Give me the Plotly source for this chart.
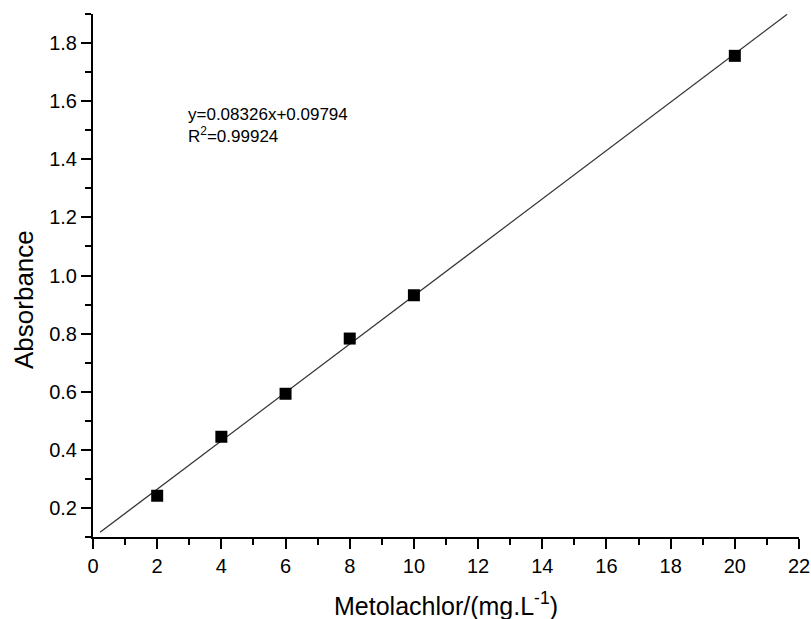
import plotly.graph_objects as go

# Data
conc = [2, 4, 6, 8, 10, 20]
absorbance = [0.242, 0.445, 0.593, 0.783, 0.932, 1.756]

slope = 0.08326
intercept = 0.09794
fit_x = [0.22, 21.63]
fit_y = [slope * v + intercept for v in fit_x]

x_ticks = [0, 2, 4, 6, 8, 10, 12, 14, 16, 18, 20, 22]
y_ticks = [0.2, 0.4, 0.6, 0.8, 1.0, 1.2, 1.4, 1.6, 1.8]

FONT = "Arial, Liberation Sans, sans-serif"

fig = go.Figure()
fig.add_trace(go.Scatter(x=fit_x, y=fit_y, mode="lines",
                         line=dict(color="#333333", width=1.3), hoverinfo="skip"))
fig.add_trace(go.Scatter(x=conc, y=absorbance, mode="markers",
                         marker=dict(symbol="square", size=12, color="black")))

axis_common = dict(
    showgrid=False, zeroline=False, showline=True, linecolor="black", linewidth=2,
    ticks="outside", ticklen=10, tickwidth=2, tickcolor="black",
    tickfont=dict(family=FONT, size=20, color="black"),
    mirror=False, automargin=False,
)

fig.update_layout(
    width=811, height=619,
    margin=dict(l=93, r=12, t=14, b=82),
    paper_bgcolor="white", plot_bgcolor="white",
    showlegend=False,
    font=dict(family=FONT, color="black"),
    xaxis=dict(range=[0, 22], tickvals=x_ticks, ticktext=[str(v) for v in x_ticks],
               minor=dict(dtick=1, ticks="outside", ticklen=6, tickwidth=2, tickcolor="black", tick0=0),
               **axis_common),
    yaxis=dict(range=[0.1, 1.9], tickvals=y_ticks, ticktext=[f"{v:.1f}" for v in y_ticks],
               minor=dict(dtick=0.1, ticks="outside", ticklen=6, tickwidth=2, tickcolor="black", tick0=0.1),
               **axis_common),
)

# equation annotation (positioned in data units)
fig.add_annotation(
    xref="x", yref="y", x=(186 - 93) / 32.09, y=0.2 + (508.3 - 126) / 290.6,
    text="y=0.08326x+0.09794<br>R<sup>2</sup>=0.99924",
    showarrow=False, xanchor="left", yanchor="middle", align="left",
    font=dict(family=FONT, size=17, color="black"),
)

fig.add_annotation(
    xref="paper", yref="paper", x=0.5, y=0, yshift=537 - 604,
    text="Metolachlor/(mg.L<sup>-1</sup>)", showarrow=False,
    xanchor="center", yanchor="middle",
    font=dict(family=FONT, size=25, color="black"),
)
fig.add_annotation(
    xref="paper", yref="paper", x=0, xshift=24 - 93, y=0.5, yshift=275.5 - 300,
    text="Absorbance", showarrow=False, textangle=-90,
    xanchor="center", yanchor="middle",
    font=dict(family=FONT, size=26, color="black"),
)

fig.write_html("out.html")
